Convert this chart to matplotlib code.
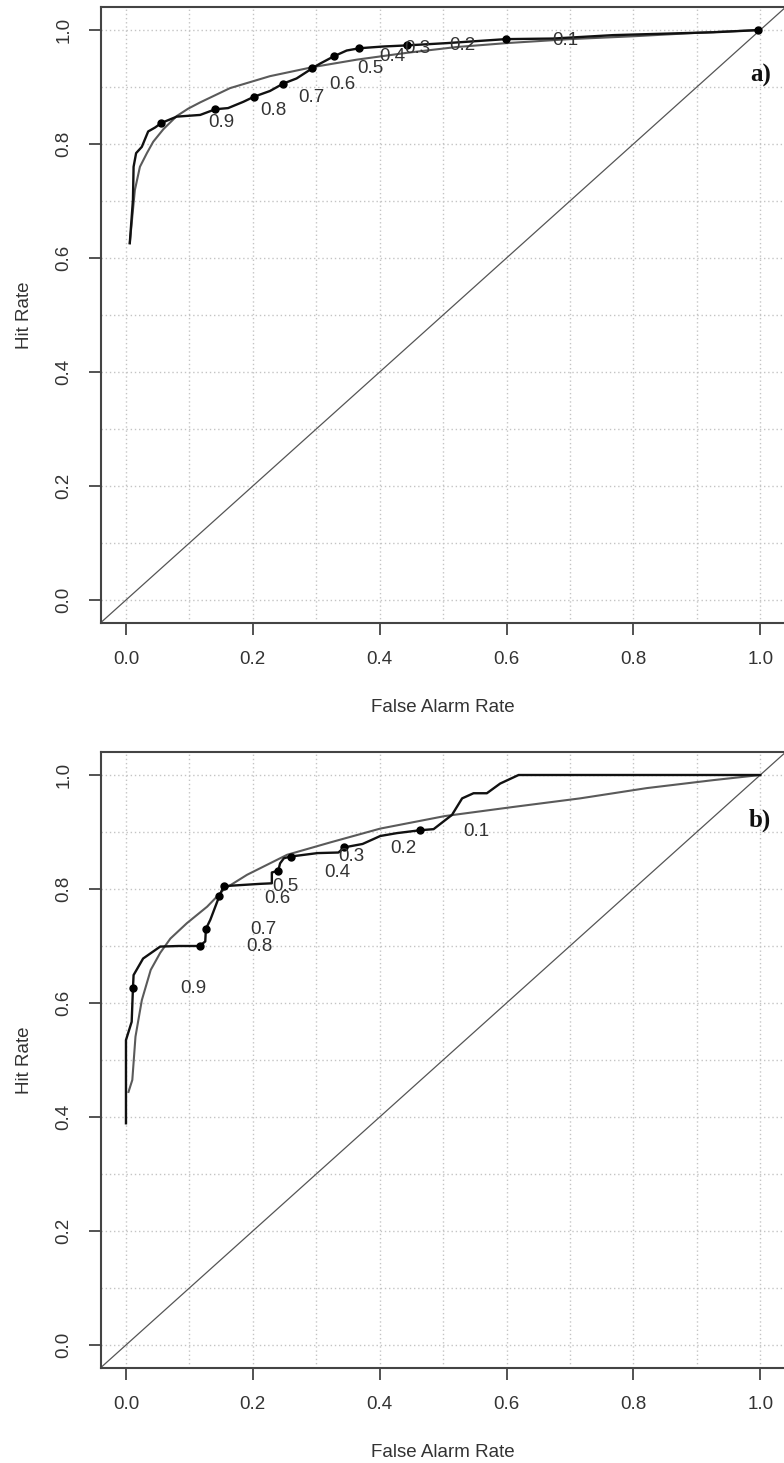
import matplotlib
matplotlib.use("Agg")
import matplotlib.pyplot as plt
import numpy as np

# ---- panel a) data (read from picture) ----
a_emp_x = [0.006, 0.011, 0.012, 0.016, 0.025, 0.035, 0.046, 0.056, 0.080, 0.117,
           0.141, 0.161, 0.185, 0.202, 0.227, 0.248, 0.269, 0.294, 0.306, 0.328,
           0.348, 0.368, 0.405, 0.443, 0.506, 0.599, 0.673, 0.768, 0.926, 1.0]
a_emp_y = [0.626, 0.702, 0.760, 0.784, 0.795, 0.822, 0.829, 0.837, 0.848, 0.851,
           0.861, 0.863, 0.874, 0.883, 0.893, 0.906, 0.915, 0.933, 0.941, 0.954,
           0.964, 0.968, 0.971, 0.973, 0.977, 0.984, 0.985, 0.991, 0.996, 1.0]
a_pts_x = [0.056, 0.141, 0.202, 0.248, 0.294, 0.328, 0.368, 0.443, 0.599, 0.997]
a_pts_y = [0.837, 0.861, 0.883, 0.906, 0.933, 0.954, 0.968, 0.973, 0.984, 1.0]
a_fit_x = [0.006, 0.014, 0.022, 0.033, 0.043, 0.059, 0.080, 0.098, 0.117, 0.164,
           0.227, 0.295, 0.364, 0.443, 0.52, 0.60, 0.70, 0.80, 0.90, 1.0]
a_fit_y = [0.626, 0.719, 0.760, 0.784, 0.804, 0.826, 0.849, 0.862, 0.873, 0.898,
           0.919, 0.935, 0.948, 0.960, 0.970, 0.977, 0.984, 0.989, 0.995, 1.0]
a_lab_x = [0.150, 0.233, 0.293, 0.341, 0.385, 0.420, 0.459, 0.530, 0.692]
a_lab_y = [0.837, 0.858, 0.881, 0.905, 0.932, 0.954, 0.968, 0.972, 0.982]

# ---- panel b) data ----
b_emp_x = [0.0, 0.0, 0.009, 0.011, 0.012, 0.027, 0.054, 0.083, 0.116, 0.125,
           0.126, 0.133, 0.147, 0.154, 0.211, 0.230, 0.230, 0.240, 0.243, 0.249,
           0.260, 0.302, 0.335, 0.344, 0.373, 0.401, 0.427, 0.463, 0.485, 0.514,
           0.530, 0.548, 0.569, 0.590, 0.619, 1.0]
b_emp_y = [0.389, 0.535, 0.567, 0.626, 0.649, 0.678, 0.699, 0.700, 0.700, 0.708,
           0.730, 0.746, 0.787, 0.805, 0.809, 0.810, 0.829, 0.832, 0.845, 0.854,
           0.857, 0.863, 0.864, 0.873, 0.879, 0.893, 0.898, 0.903, 0.905, 0.930,
           0.959, 0.968, 0.968, 0.985, 1.0, 1.0]
b_pts_x = [0.011, 0.116, 0.126, 0.147, 0.154, 0.240, 0.260, 0.344, 0.463]
b_pts_y = [0.626, 0.700, 0.730, 0.787, 0.805, 0.832, 0.857, 0.873, 0.903]
b_fit_x = [0.004, 0.010, 0.015, 0.025, 0.039, 0.054, 0.070, 0.096, 0.128, 0.155,
           0.191, 0.254, 0.323, 0.401, 0.503, 0.611, 0.716, 0.821, 0.926, 1.0]
b_fit_y = [0.444, 0.465, 0.541, 0.605, 0.658, 0.688, 0.713, 0.740, 0.769, 0.800,
           0.825, 0.860, 0.882, 0.906, 0.928, 0.944, 0.959, 0.977, 0.991, 1.0]
b_lab_x = [0.106, 0.210, 0.217, 0.239, 0.252, 0.333, 0.355, 0.437, 0.552]
b_lab_y = [0.626, 0.699, 0.729, 0.784, 0.804, 0.829, 0.857, 0.871, 0.901]

thresholds = ["0.9", "0.8", "0.7", "0.6", "0.5", "0.4", "0.3", "0.2", "0.1"]
tick_vals = [0.0, 0.2, 0.4, 0.6, 0.8, 1.0]

plt.rcParams['font.family'] = ['Liberation Sans', 'DejaVu Sans']

W, H = 784, 1463
fig = plt.figure(figsize=(W / 100, H / 100), dpi=100)

frame_col = '#444444'


def draw_panel(ax, emp_x, emp_y, pts_x, pts_y, fit_x, fit_y, lab_x, lab_y, tag):
    ax.set_xlim(-0.04, 1.04)
    ax.set_ylim(-0.04, 1.04)
    grid = np.arange(0, 1.01, 0.1)
    for g in grid:
        ax.axvline(g, color='#c4c4c4', lw=1.0, ls=(0, (1, 2)), zorder=0)
        ax.axhline(g, color='#c4c4c4', lw=1.0, ls=(0, (1, 2)), zorder=0)
    # diagonal
    ax.plot([-0.04, 1.04], [-0.04, 1.04], color='#555555', lw=0.9, zorder=1)
    # fitted curve
    ax.plot(fit_x, fit_y, color='#5a5a5a', lw=1.5, zorder=2)
    # empirical curve
    ax.plot(emp_x, emp_y, color='#111111', lw=1.7, zorder=3)
    ax.plot(pts_x, pts_y, 'o', color='black', ms=5, zorder=4)
    for t, lx, ly in zip(thresholds, lab_x, lab_y):
        ax.text(lx, ly, t, fontsize=13.5, color='#333333', ha='center', va='center', zorder=5)
    ax.text(1.0, 0.92, tag, fontsize=18, fontweight='bold', family='Liberation Serif',
            color='#111111', ha='center', va='center')

    ax.set_xticks(tick_vals)
    ax.set_yticks(tick_vals)
    ax.set_xticklabels([f"{v:.1f}" for v in tick_vals], fontsize=13.5, color='#333333')
    ax.set_yticklabels([f"{v:.1f}" for v in tick_vals], fontsize=13.5, color='#333333',
                       rotation=90, va='center')
    ax.tick_params(length=8.5, width=1.3, color=frame_col, pad=12)
    ax.set_xlabel("False Alarm Rate", fontsize=13.5, color='#333333', labelpad=22)
    ax.set_ylabel("Hit Rate", fontsize=13.5, color='#333333', labelpad=16)
    for s in ax.spines.values():
        s.set_color(frame_col)
        s.set_linewidth(1.5)


left = 100.6 / W
width = 685.0 / W
height = 615.6 / H

ax_a = fig.add_axes([left, 1 - 622.8 / H, width, height])
draw_panel(ax_a, a_emp_x, a_emp_y, a_pts_x, a_pts_y, a_fit_x, a_fit_y, a_lab_x, a_lab_y, "a)")

ax_b = fig.add_axes([left, 1 - 1367.8 / H, width, height])
draw_panel(ax_b, b_emp_x, b_emp_y, b_pts_x, b_pts_y, b_fit_x, b_fit_y, b_lab_x, b_lab_y, "b)")

fig.savefig("out.png", dpi=100)
